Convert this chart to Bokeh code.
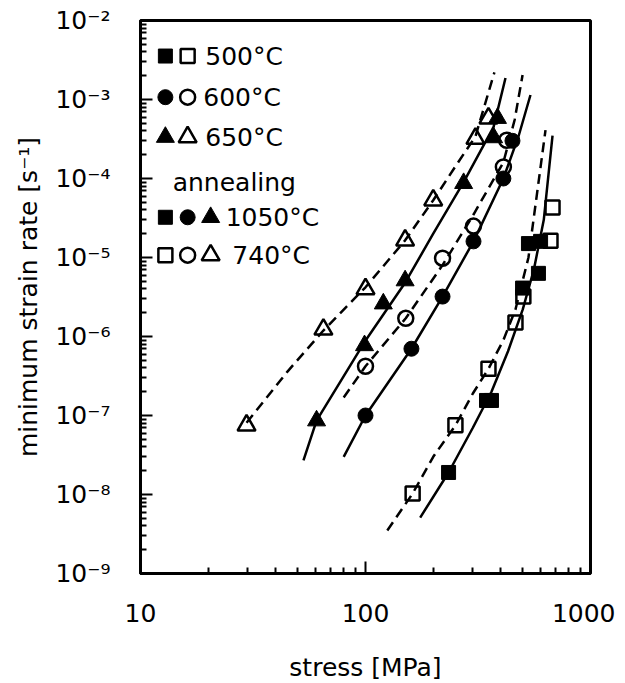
from bokeh.plotting import figure
from bokeh.models import FixedTicker, Label, Range1d
from bokeh.embed import file_html
from bokeh.resources import INLINE

FONT = "DejaVu Sans"

# ---------------- data (stress [MPa], minimum strain rate [1/s]) ----------------
# 500 C
sq_1050_s = [234, 345, 363, 499, 587, 530, 600]
sq_1050_r = [1.9e-8, 1.55e-7, 1.55e-7, 4.1e-6, 6.3e-6, 1.5e-5, 1.6e-5]
sq_740_s = [162, 251, 352, 464, 503, 664, 678]
sq_740_r = [1.03e-8, 7.5e-8, 3.9e-7, 1.5e-6, 3.2e-6, 1.63e-5, 4.3e-5]
# 600 C
ci_1050_s = [100, 160, 220, 302, 410, 450]
ci_1050_r = [1.0e-7, 7.0e-7, 3.2e-6, 1.6e-5, 1.0e-4, 3.0e-4]
ci_740_s = [100, 151, 220, 302, 410, 424]
ci_740_r = [4.2e-7, 1.7e-6, 9.8e-6, 2.5e-5, 1.4e-4, 3.05e-4]
# 650 C
tr_1050_s = [60.6, 99, 120, 150, 273, 371, 386]
tr_1050_r = [8.6e-8, 7.7e-7, 2.6e-6, 5.1e-6, 8.7e-5, 3.3e-4, 5.8e-4]
tr_740_s = [29.6, 65, 100, 150, 200, 308, 352]
tr_740_r = [7.5e-8, 1.23e-6, 4.0e-6, 1.65e-5, 5.3e-5, 3.2e-4, 5.8e-4]

# fitted curves
fit_sq_1050_s = [175, 234, 300, 363, 430, 500, 560, 620, 678]
fit_sq_1050_r = [5.1e-9, 1.9e-8, 7.0e-8, 2.0e-7, 6.5e-7, 2.2e-6, 7.0e-6, 3.0e-5, 3.5e-4]
fit_sq_740_s = [125, 162, 200, 251, 300, 352, 410, 464, 530, 631]
fit_sq_740_r = [3.5e-9, 1.03e-8, 3.0e-8, 7.5e-8, 1.9e-7, 3.9e-7, 9.0e-7, 2.2e-6, 1.0e-5, 4.1e-4]
fit_ci_1050_s = [80, 100, 160, 220, 302, 410, 480, 541]
fit_ci_1050_r = [3.0e-8, 1.0e-7, 7.0e-7, 3.2e-6, 1.6e-5, 1.0e-4, 3.5e-4, 1.14e-3]
fit_ci_740_s = [80, 100, 151, 220, 302, 410, 460, 499]
fit_ci_740_r = [1.69e-7, 4.2e-7, 1.7e-6, 8.0e-6, 3.5e-5, 1.6e-4, 5.5e-4, 2.04e-3]
fit_tr_1050_s = [53, 60.6, 99, 150, 200, 273, 371, 419]
fit_tr_1050_r = [2.7e-8, 8.6e-8, 8.5e-7, 4.8e-6, 2.0e-5, 9.0e-5, 4.5e-4, 1.87e-3]
fit_tr_740_s = [29.6, 45, 65, 100, 150, 200, 250, 308, 374]
fit_tr_740_r = [8.1e-8, 3.6e-7, 1.19e-6, 4.2e-6, 1.65e-5, 5.3e-5, 1.4e-4, 3.4e-4, 2.2e-3]

# legend layout (positions in data units)
leg_x = [12.9, 16.2, 20.5]
leg_rows = [3.55e-3, 1.07e-3, 3.34e-4, 3.23e-5, 1.07e-5]
leg_head_y = 8.97e-5

x_ticks = [10, 100, 1000]
x_labels = ["10", "100", "1000"]
y_ticks = [1e-9, 1e-8, 1e-7, 1e-6, 1e-5, 1e-4, 1e-3, 1e-2]
y_labels = ["10\u207b\u2079", "10\u207b\u2078", "10\u207b\u2077", "10\u207b\u2076",
            "10\u207b\u2075", "10\u207b\u2074", "10\u207b\u00b3", "10\u207b\u00b2"]

x_minor = [m * 10 ** e for e in (1, 2) for m in range(2, 10)]
y_minor = [m * 10.0 ** e for e in range(-9, -2) for m in range(2, 10)]

p = figure(x_axis_type="log", y_axis_type="log",
           x_range=Range1d(10, 1000), y_range=Range1d(1e-9, 1e-2),
           frame_width=450, frame_height=553,
           min_border_left=140, min_border_right=25, min_border_top=20, min_border_bottom=100,
           output_backend="svg", toolbar_location=None)
p.background_fill_color = "white"
p.border_fill_color = "white"
p.xgrid.visible = False
p.ygrid.visible = False
p.outline_line_color = "black"
p.outline_line_width = 3

for ax in (p.xaxis[0], p.yaxis[0]):
    ax.axis_line_width = 3
    ax.major_tick_in = 12
    ax.major_tick_out = 0
    ax.minor_tick_in = 6
    ax.minor_tick_out = 0
    ax.major_tick_line_width = 2
    ax.minor_tick_line_width = 2
    ax.major_label_text_font = FONT
    ax.major_label_text_font_size = "25px"
    ax.major_label_text_color = "black"
    ax.axis_label_text_font = FONT
    ax.axis_label_text_font_size = "25px"
    ax.axis_label_text_font_style = "normal"
    ax.axis_label_text_color = "black"

p.xaxis.ticker = FixedTicker(ticks=x_ticks, minor_ticks=x_minor)
p.yaxis.ticker = FixedTicker(ticks=y_ticks, minor_ticks=y_minor)
p.xaxis.major_label_overrides = {t: l for t, l in zip(x_ticks, x_labels)}
p.xaxis.major_label_standoff = 30
p.xaxis.axis_label = "stress [MPa]"
p.xaxis.axis_label_standoff = 28

p.yaxis.major_label_overrides = {t: l for t, l in zip(y_ticks, y_labels)}
p.yaxis.major_label_standoff = 30
p.yaxis.axis_label = "minimum strain rate [s\u207b\u00b9]"
p.yaxis.axis_label_standoff = 9

LW = 2.5
DASH = "10 6"
# curves
p.line(fit_sq_1050_s, fit_sq_1050_r, line_color="black", line_width=LW)
p.line(fit_sq_740_s, fit_sq_740_r, line_color="black", line_width=LW, line_dash=DASH)
p.line(fit_ci_1050_s, fit_ci_1050_r, line_color="black", line_width=LW)
p.line(fit_ci_740_s, fit_ci_740_r, line_color="black", line_width=LW, line_dash=DASH)
p.line(fit_tr_1050_s, fit_tr_1050_r, line_color="black", line_width=LW)
p.line(fit_tr_740_s, fit_tr_740_r, line_color="black", line_width=LW, line_dash=DASH)

SQ, CI, TR = 14, 15, 18

def filled(xs, ys, marker, size):
    p.scatter(xs, ys, marker=marker, size=size, fill_color="black", line_color="black", line_width=1)

def hollow(xs, ys, marker, size):
    p.scatter(xs, ys, marker=marker, size=size, fill_alpha=0, line_color="black", line_width=2.5)

hollow(sq_740_s, sq_740_r, "square", SQ)
filled(sq_1050_s, sq_1050_r, "square", SQ)
hollow(ci_740_s, ci_740_r, "circle", CI)
filled(ci_1050_s, ci_1050_r, "circle", CI)
hollow(tr_740_s, tr_740_r, "triangle", TR)
filled(tr_1050_s, tr_1050_r, "triangle", TR)

# legend
filled([leg_x[0]], [leg_rows[0]], "square", SQ)
hollow([leg_x[1]], [leg_rows[0]], "square", SQ)
filled([leg_x[0]], [leg_rows[1]], "circle", CI)
hollow([leg_x[1]], [leg_rows[1]], "circle", CI)
filled([leg_x[0]], [leg_rows[2]], "triangle", TR)
hollow([leg_x[1]], [leg_rows[2]], "triangle", TR)
filled([leg_x[0]], [leg_rows[3]], "square", SQ)
filled([leg_x[1]], [leg_rows[3]], "circle", CI)
filled([leg_x[2]], [leg_rows[3]], "triangle", TR)
hollow([leg_x[0]], [leg_rows[4]], "square", SQ)
hollow([leg_x[1]], [leg_rows[4]], "circle", CI)
hollow([leg_x[2]], [leg_rows[4]], "triangle", TR)

legend_texts = [("500\u00b0C", 19.4, leg_rows[0]), ("600\u00b0C", 19.0, leg_rows[1]),
                ("650\u00b0C", 19.4, leg_rows[2]), ("annealing", 13.9, leg_head_y),
                ("1050\u00b0C", 23.9, leg_rows[3]), ("740\u00b0C", 25.6, leg_rows[4])]
for txt, x, y in legend_texts:
    p.add_layout(Label(x=x, y=y, text=txt, text_font=FONT, text_font_size="25px",
                       text_baseline="middle", text_align="left", text_color="black"))

open("out.html", "w").write(file_html(p, INLINE))
